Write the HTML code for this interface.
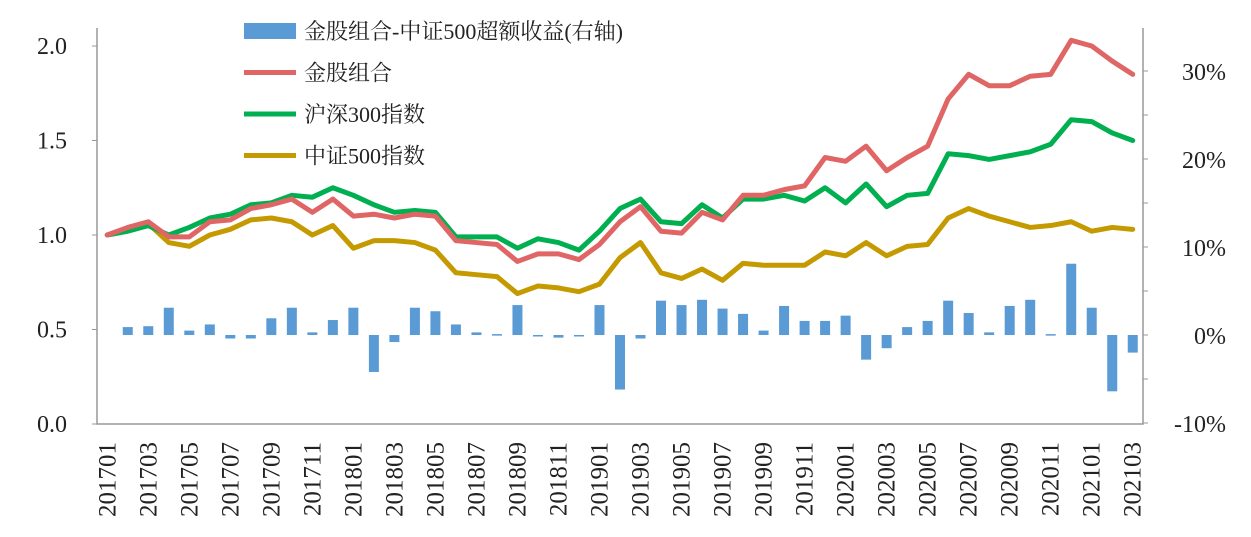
<!DOCTYPE html>
<html><head><meta charset="utf-8">
<style>
body{margin:0;background:#fff;}
svg{display:block;font-family:"Liberation Serif","Noto Serif CJK SC",serif;}
</style></head>
<body>
<svg id="chart" width="1251" height="537" viewBox="0 0 1251 537" xmlns="http://www.w3.org/2000/svg"></svg>
<script>
const months = ["201701","201702","201703","201704","201705","201706","201707","201708","201709","201710","201711","201712",
"201801","201802","201803","201804","201805","201806","201807","201808","201809","201810","201811","201812",
"201901","201902","201903","201904","201905","201906","201907","201908","201909","201910","201911","201912",
"202001","202002","202003","202004","202005","202006","202007","202008","202009","202010","202011","202012",
"202101","202102","202103"];
const goldStock = [1.00,1.04,1.07,0.99,0.99,1.07,1.08,1.14,1.16,1.19,1.12,1.19,1.10,1.11,1.09,1.11,1.10,0.97,0.96,0.95,0.86,0.90,0.90,0.87,0.95,1.07,1.15,1.02,1.01,1.12,1.08,1.21,1.21,1.24,1.26,1.41,1.39,1.47,1.34,1.41,1.47,1.72,1.85,1.79,1.79,1.84,1.85,2.03,2.00,1.92,1.85];
const hs300 = [1.00,1.02,1.05,1.00,1.04,1.09,1.11,1.16,1.17,1.21,1.20,1.25,1.21,1.16,1.12,1.13,1.12,0.99,0.99,0.99,0.93,0.98,0.96,0.92,1.02,1.14,1.19,1.07,1.06,1.16,1.09,1.19,1.19,1.21,1.18,1.25,1.17,1.27,1.15,1.21,1.22,1.43,1.42,1.40,1.42,1.44,1.48,1.61,1.60,1.54,1.50];
const csi500 = [1.00,1.03,1.06,0.96,0.94,1.00,1.03,1.08,1.09,1.07,1.00,1.05,0.93,0.97,0.97,0.96,0.92,0.80,0.79,0.78,0.69,0.73,0.72,0.70,0.74,0.88,0.96,0.80,0.77,0.82,0.76,0.85,0.84,0.84,0.84,0.91,0.89,0.96,0.89,0.94,0.95,1.09,1.14,1.10,1.07,1.04,1.05,1.07,1.02,1.04,1.03];
const excess = [0,0.9,1.0,3.1,0.5,1.2,-0.4,-0.4,1.9,3.1,0.3,1.7,3.1,-4.2,-0.8,3.1,2.7,1.2,0.3,0.1,3.4,-0.1,-0.3,-0.1,3.4,-6.2,-0.4,3.9,3.4,4.0,3.0,2.4,0.5,3.3,1.6,1.6,2.2,-2.8,-1.5,0.9,1.6,3.9,2.5,0.3,3.3,4.0,0.1,8.1,3.1,-6.4,-2.0];
const leftTicks = [0.0,0.5,1.0,1.5,2.0];
const leftTickLabels = ["0.0","0.5","1.0","1.5","2.0"];
const rightTicks = [-10,0,10,20,30];
const rightTickLabels = ["-10%","0%","10%","20%","30%"];

const NS="http://www.w3.org/2000/svg";
const svg=document.getElementById('chart');
const X0=97,X1=1143,Y0=424;
const band=(X1-X0)/months.length;
const xc=i=>X0+band*(i+0.5);
const yL=v=>Y0-v*189;
const yR=v=>335-v*8.8;
function mk(tag,attrs,parent){const e=document.createElementNS(NS,tag);for(const k in attrs)e.setAttribute(k,attrs[k]);(parent||svg).appendChild(e);return e;}

// bars
const gb=mk('g',{});


excess.forEach((v,i)=>{
  if(v===0) return;
  const y1=yR(Math.max(v,0)),y2=yR(Math.min(v,0));
  const r=mk('rect',{x:xc(i)-5,y:y1,width:10,height:Math.max(y2-y1,1.5),fill:'#5b9bd5'},gb);
  
  
});

// lines
function line(data,color,name){
  const p=mk('polyline',{points:data.map((v,i)=>xc(i)+','+yL(v)).join(' '),fill:'none',stroke:color,'stroke-width':5,'stroke-linejoin':'round','stroke-linecap':'round'});
  
  
}
line(csi500,'#c49a00','csi500-line');
line(hs300,'#00b050','hs300-line');
line(goldStock,'#e06666','gold-stock-line');

// axes
const ax=mk('path',{d:`M${X0},28V${Y0}H${X1}V28`,fill:'none',stroke:'#999','stroke-width':1.5});


leftTicks.forEach((v,i)=>{
  mk('line',{x1:X0-5,x2:X0,y1:yL(v),y2:yL(v),stroke:'#999'});
  const t=mk('text',{x:67,y:yL(v)+8,'text-anchor':'end','font-size':24,fill:'#222'});
  t.textContent=leftTickLabels[i];
  
  
});
for(let v=-10;v<=30;v+=5) mk('line',{x1:X1,x2:X1+5,y1:yR(v),y2:yR(v),stroke:'#999'});
rightTicks.forEach((v,i)=>{
  const t=mk('text',{x:1226,y:yR(v)+9,'text-anchor':'end','font-size':24,fill:'#222'});
  t.textContent=rightTickLabels[i];
  
  
});
months.forEach((m,i)=>{
  if(i%2) return;
  const x=xc(i)+8,y=442;
  const t=mk('text',{x:x,y:y,transform:`rotate(-90 ${x} ${y})`,'text-anchor':'end','font-size':25,fill:'#222'});
  t.textContent=m;
  
  
});

// legend
const legend=[["bar","#5b9bd5","金股组合-中证500超额收益(右轴)"],["line","#e06666","金股组合"],["line","#00b050","沪深300指数"],["line","#c49a00","中证500指数"]];
const lg=mk('g',{});


legend.forEach((l,i)=>{
  const y=31+i*41.5;
  if(l[0]==='bar') mk('rect',{x:244,y:y-8,width:52,height:16,fill:l[1]},lg);
  else mk('line',{x1:244,x2:296,y1:y,y2:y,stroke:l[1],'stroke-width':5},lg);
  const t=mk('text',{x:304,y:y+8,'font-size':22,fill:'#222'},lg);
  t.textContent=l[2];
  
  
});
</script>
</body></html>
